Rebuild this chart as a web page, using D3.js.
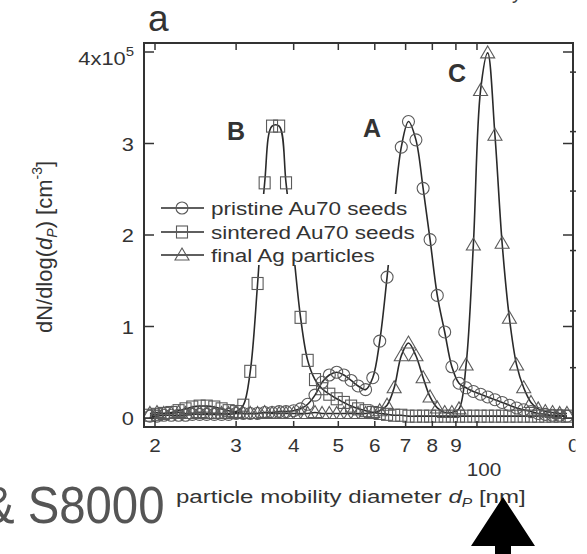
<!DOCTYPE html>
<html><head><meta charset="utf-8">
<script src="https://cdn.jsdelivr.net/npm/d3@7"></script>
<style>html,body{margin:0;padding:0;background:#fff;}svg{display:block;}</style>
</head><body>
<script>
// particle mobility diameter (nm), SMPS channels
const diameters = [19.5,20.2,20.9,21.7,22.5,23.3,24.1,25.0,25.9,26.9,27.9,28.9,30.0,31.1,32.2,33.4,34.6,35.9,37.2,38.5,40.0,41.4,42.9,44.5,46.1,47.8,49.6,51.4,53.3,55.2,57.3,59.4,61.5,63.8,66.1,68.5,71.0,73.7,76.4,79.1,82.0,85.1,88.2,91.4,94.7,98.2,101.8,105.5,109.4,113.4,117.6,121.9,126.3,131.0,135.8,140.7,145.9,151.2,156.8];
// dN/dlog(dP) in units of 1e5 cm^-3
const pristine = [0.02,0.02,0.03,0.03,0.03,0.03,0.04,0.04,0.04,0.04,
  0.04,0.04,0.05,0.05,0.05,0.05,0.06,0.06,0.07,0.07,
  0.08,0.10,0.15,0.25,0.39,0.47,0.50,0.47,0.41,0.35,
  0.31,0.44,0.84,1.54,2.30,2.96,3.24,3.04,2.51,1.95,
  1.34,0.94,0.56,0.38,0.33,0.29,0.26,0.23,0.20,0.17,
  0.14,0.11,0.09,0.07,0.05,0.04,0.03,0.03,0.02];
const sintered = [0.03,0.04,0.05,0.06,0.08,0.10,0.12,0.13,0.13,0.12,
  0.10,0.08,0.07,0.14,0.51,1.47,2.57,3.19,3.19,2.57,
  1.80,1.10,0.63,0.42,0.32,0.26,0.21,0.17,0.13,0.10,
  0.08,0.06,0.05,0.04,0.03,0.03,0.02,0.02,0.02,0.02,
  0.02,0.02,0.02,0.02,0.02,0.02,0.02,0.02,0.02,0.02,
  0.02,0.02,0.02,0.02,0.02,0.02,0.02,0.02,0.02];
const finalAg = [0.05,0.06,0.05,0.05,0.06,0.05,0.05,0.06,0.05,0.05,
  0.05,0.05,0.06,0.05,0.05,0.05,0.06,0.05,0.05,0.05,
  0.05,0.05,0.05,0.06,0.05,0.05,0.05,0.05,0.05,0.05,
  0.05,0.06,0.08,0.14,0.33,0.68,0.82,0.68,0.44,0.23,
  0.11,0.06,0.06,0.10,0.58,1.89,3.58,3.99,3.09,1.91,
  1.09,0.58,0.33,0.17,0.10,0.07,0.06,0.05,0.05];
const seriesNames = ["pristine Au70 seeds","sintered Au70 seeds","final Ag particles"];
const xTickValues = [20,30,40,50,60,70,80,90,100];
const xTickLabels = ["2","3","4","5","6","7","8","9","100"];
const yTickValues = [0,1,2,3,4];
const yTickLabels = ["0","1","2","3","4x10"];
const yRightMinor = [0.55,1.17,1.83,2.48,3.13,3.78];
const peakLabels = [{t:"B", d:30.0, v:3.04},{t:"A", d:59.2, v:3.07},{t:"C", d:90.5, v:3.67}];

const W=587,H=554;
const L=144,R=573,T=43,B=427;
const FONT="'Liberation Sans', Arial, Helvetica, sans-serif";
const svg=d3.select("body").append("svg").attr("width",W).attr("height",H);
const x=d3.scaleLog().domain([18.93,161.6]).range([L,R]);
const y=d3.scaleLinear().domain([0,4]).range([418,52]);

function stext(g,px,py,sx,fs){ // horizontally stretched text
  return g.append("text").attr("transform",`translate(${px},${py}) scale(${sx},1)`)
    .attr("font-family",FONT).attr("font-size",fs).attr("fill","#333");
}

// Title
stext(svg,148,31,1.0,37).text("a");
// partial text at top
svg.append("text").attr("x",512).attr("y",-1).attr("font-family",FONT).attr("font-size",20).attr("fill","#444").text("y");

// plot clip
svg.append("clipPath").attr("id","pc").append("rect").attr("x",L).attr("y",T).attr("width",R-L).attr("height",B-T);

const plot=svg.append("g").attr("clip-path","url(#pc)");
const line=d3.line().x((d,i)=>x(diameters[i])).y(d=>y(d)).curve(d3.curveCatmullRom.alpha(0.5));
const datasets=[pristine,sintered,finalAg];
datasets.forEach(ds=>{
  plot.append("path").attr("d",line(ds)).attr("fill","none").attr("stroke","#2a2a2a").attr("stroke-width",1.6);
});
const mk="#5a5a5a";
function marker(g,type,cx,cy){
  if(type===0) g.append("circle").attr("cx",cx).attr("cy",cy).attr("r",6).attr("fill","none").attr("stroke",mk).attr("stroke-width",1.1);
  else if(type===1) g.append("rect").attr("x",cx-5.5).attr("y",cy-6).attr("width",11).attr("height",12).attr("fill","none").attr("stroke",mk).attr("stroke-width",1.1);
  else g.append("path").attr("d",`M${cx},${cy-7}L${cx+7},${cy+5}L${cx-7},${cy+5}Z`).attr("fill","none").attr("stroke",mk).attr("stroke-width",1.1);
}
datasets.forEach((ds,k)=>{ ds.forEach((v,i)=>marker(plot,k,x(diameters[i]),y(v))); });

// legend
const lg=svg.append("g");
lg.append("rect").attr("x",155).attr("y",194).attr("width",265).attr("height",71).attr("fill","#fff");
const rowsY=[208,232,255];
seriesNames.forEach((n,k)=>{
  lg.append("line").attr("x1",161).attr("x2",204).attr("y1",rowsY[k]).attr("y2",rowsY[k]).attr("stroke","#2a2a2a").attr("stroke-width",1.6);
  marker(lg,k,182,rowsY[k]);
  stext(lg,211,rowsY[k]+6.5,1.25,18).text(n);
});

// peak labels
peakLabels.forEach(p=>{
  stext(svg,x(p.d),y(p.v),1.0,25).attr("font-weight","bold").attr("text-anchor","middle").text(p.t);
});

// frame
svg.append("rect").attr("x",L).attr("y",T).attr("width",R-L).attr("height",B-T).attr("fill","none").attr("stroke","#333").attr("stroke-width",2);
// ticks
const tk=svg.append("g").attr("stroke","#333").attr("stroke-width",1.5);
xTickValues.forEach(v=>{
  tk.append("line").attr("x1",x(v)).attr("x2",x(v)).attr("y1",T).attr("y2",T+7);
  tk.append("line").attr("x1",x(v)).attr("x2",x(v)).attr("y1",B).attr("y2",B-6);
});
yTickValues.forEach(v=>{
  tk.append("line").attr("x1",L).attr("x2",L+10).attr("y1",y(v)).attr("y2",y(v));
  tk.append("line").attr("x1",R).attr("x2",R-10).attr("y1",y(v)).attr("y2",y(v));
});
yRightMinor.forEach(v=>{
  tk.append("line").attr("x1",R-3).attr("x2",R+3).attr("y1",y(v)).attr("y2",y(v));
});

// y tick labels
yTickValues.forEach((v,i)=>{
  const t=stext(svg,134,y(v)+7,1.15,19).attr("text-anchor","end");
  if(i===4){ t.text(yTickLabels[i]); t.append("tspan").attr("dy",-9).attr("font-size",13).text("5"); t.attr("transform",`translate(134,${y(v)+13}) scale(1.15,1)`); }
  else t.text(yTickLabels[i]);
});
// x tick labels
xTickValues.forEach((v,i)=>{
  if(v===100) stext(svg,x(v)+7,476,1.15,18).attr("text-anchor","middle").text(xTickLabels[i]);
  else stext(svg,x(v),452,1.15,18).attr("text-anchor","middle").text(xTickLabels[i]);
});
// clipped label at right edge
svg.append("clipPath").attr("id","rc").append("rect").attr("x",560).attr("y",430).attr("width",15.5).attr("height",30);
stext(svg.append("g").attr("clip-path","url(#rc)"),568,452,1.15,18).text("0");

// x axis title
const xt=stext(svg,176,503,1.3,18.5);
xt.append("tspan").text("particle mobility diameter ");
xt.append("tspan").attr("font-style","italic").text("d");
xt.append("tspan").attr("font-style","italic").attr("font-size",12).attr("dy",4).text("P");
xt.append("tspan").attr("dy",-4).text(" [nm]");

// y axis title
const yt=svg.append("text").attr("transform","translate(52,247) rotate(-90)")
  .attr("font-family",FONT).attr("font-size",22).attr("fill","#333").attr("text-anchor","middle");
yt.append("tspan").text("dN/dlog(");
yt.append("tspan").attr("font-style","italic").text("d");
yt.append("tspan").attr("font-style","italic").attr("font-size",14).attr("dy",5).text("P");
yt.append("tspan").attr("dy",-5).text(") [cm");
yt.append("tspan").attr("font-size",14).attr("dy",-10).text("-3");
yt.append("tspan").attr("dy",10).text("]");

// big gray text
stext(svg,-17,523,0.91,52).attr("fill","#555").text("& S8000");

// arrow
svg.append("path").attr("d","M503,497L535,546L511,546L511,554L495,554L495,546L471,546Z").attr("fill","#000");
</script>
</body></html>
